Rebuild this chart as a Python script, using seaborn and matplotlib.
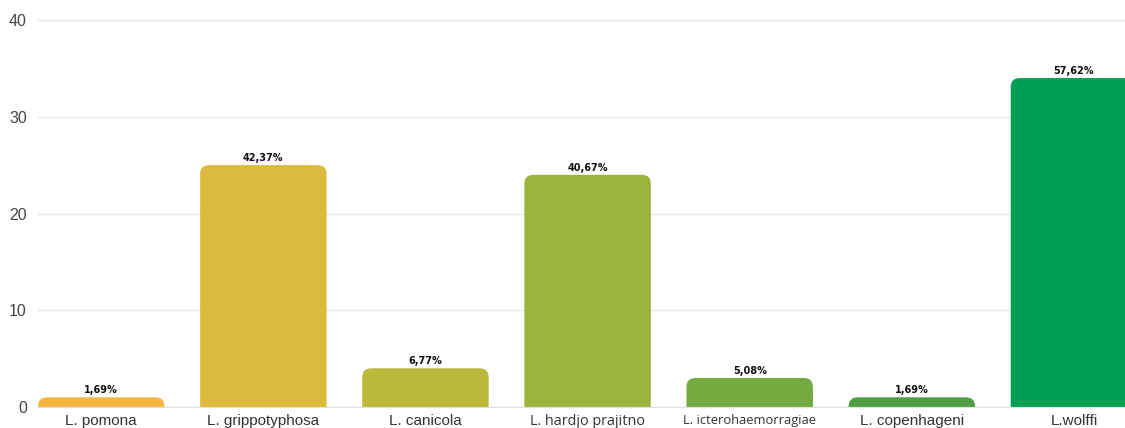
import matplotlib
matplotlib.use("Agg")
import matplotlib.pyplot as plt
import seaborn as sns
import pandas as pd
from matplotlib.patches import FancyBboxPatch

categories = ["L. pomona", "L. grippotyphosa", "L. canicola", "L. hardjo prajitno",
              "L. icterohaemorragiae", "L. copenhageni", "L.wolffi"]
counts = [1, 25, 4, 24, 3, 1, 34]
pct_labels = ["1,69%", "42,37%", "6,77%", "40,67%", "5,08%", "1,69%", "57,62%"]
colors = ["#F5B540", "#DCBA3B", "#BBB93A", "#9AB33B", "#74AB40", "#4F9E46", "#009F53"]

df = pd.DataFrame({"cat": categories, "n": counts})

sns.set_theme(style="white")
plt.rcParams['font.family'] = ['Liberation Sans', 'DejaVu Sans']

fig = plt.figure(figsize=(11.25, 4.28), dpi=100)
ax = fig.add_axes([38 / 1125, 1 - 407 / 428, 1 - 38 / 1125, (407 - 20) / 428])

sns.barplot(data=df, x="cat", y="n", hue="cat", palette=colors, legend=False,
            width=0.78, ax=ax, saturation=1)

ax.set_xlim(-0.39, 6.315)
ax.set_ylim(0, 40)
ax.set_yticks([0, 10, 20, 30, 40])

# rounded tops
px_x = (6.315 + 0.39) / (1125 - 38)
px_y = 40 / (407 - 20)
aspect = px_y / px_x
r = 9 * px_x
for p, c in zip(list(ax.patches), colors):
    x, w, h = p.get_x(), p.get_width(), p.get_height()
    p.remove()
    fb = FancyBboxPatch((x, -2), w, h + 2,
                        boxstyle=f"round,pad=0,rounding_size={r}",
                        mutation_aspect=aspect, facecolor=c, edgecolor="none",
                        zorder=2)
    ax.add_patch(fb)

for i, (v, lab) in enumerate(zip(counts, pct_labels)):
    ax.annotate(lab, (i, v), xytext=(0, 1.5), textcoords="offset points",
                ha="center", va="bottom", fontsize=7, fontweight="bold",
                color="#111111", family="DejaVu Sans")

ax.grid(axis="y", color="#e5e5e5", linewidth=0.9, zorder=0)
ax.set_axisbelow(True)
for s in ["top", "right", "left"]:
    ax.spines[s].set_visible(False)
ax.spines["bottom"].set_color("#e0e0e0")
ax.spines["bottom"].set_linewidth(0.9)
ax.tick_params(axis="both", length=0)
ax.tick_params(axis="y", labelsize=11.5, labelcolor="#444444", pad=8)
ax.tick_params(axis="x", labelsize=11, labelcolor="#333333", pad=5)
ax.set_xlabel("")
ax.set_ylabel("")
for t in ax.get_xticklabels():
    if t.get_text() == "L. hardjo prajitno":
        t.set_family("Open Sans")
        t.set_fontsize(10.4)
    elif t.get_text() == "L. icterohaemorragiae":
        t.set_family("Open Sans")
        t.set_fontsize(9.3)

fig.savefig("out.png", dpi=100)
